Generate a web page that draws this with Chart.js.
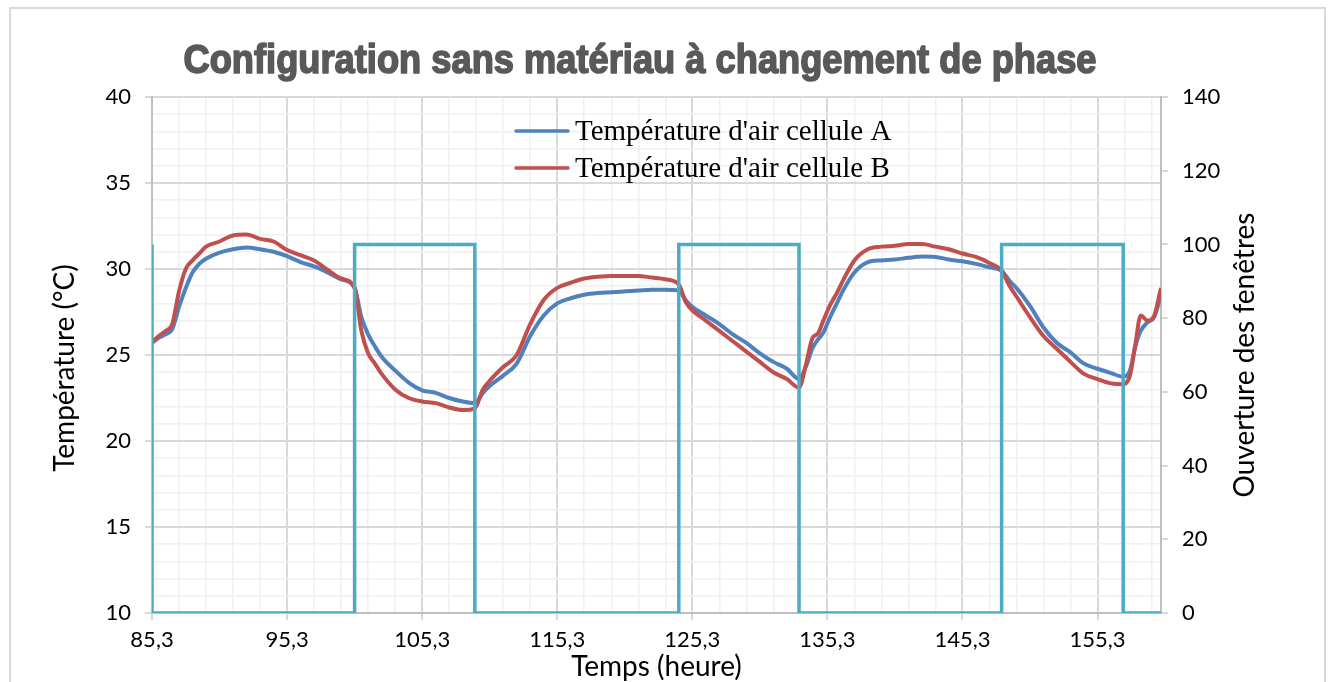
<!DOCTYPE html>
<html>
<head>
<meta charset="utf-8">
<script src="https://cdn.jsdelivr.net/npm/chart.js@4.4.1/dist/chart.umd.min.js"></script>
<style>
  html, body { margin: 0; padding: 0; background: #fff; overflow: hidden; }
  #frame { position: absolute; left: 9px; top: 7px; width: 1313px; height: 700px; border: 2px solid #d9d9d9; }
  #graph { position: absolute; left: 0; top: 0; }
</style>
</head>
<body>
<div id="frame"></div>
<canvas id="graph" width="1332" height="682"></canvas>
<script>
// time axis (hours) shared by both temperature series
const hours = [85.3, 85.8, 86.3, 86.8, 87.3, 87.8, 88.3, 88.8, 89.3,
  90.3, 91.3, 92.3, 93.3, 94.3, 95.3, 96.3, 97.3, 98.3, 99.3, 100.3,
  100.8, 101.3, 101.8, 102.3,
  103.3, 104.3, 105.3, 106.3, 107.3, 108.3,
  109.2, 109.8,
  110.3, 111.3, 112.3, 113.3, 114.3, 115.3, 116.3, 117.3, 118.3, 119.3, 120.3, 121.3, 122.3, 123.3, 124.3,
  124.8,
  125.3, 126.3, 127.3, 128.3, 129.3, 130.3, 131.3, 132.3,
  133.2,
  133.7, 134.2, 134.6, 135.0, 135.5, 136.0, 136.5,
  137.3, 138.3, 139.3, 140.3, 141.3, 142.3, 143.3, 144.3, 145.3, 146.3, 147.3,
  148.2, 148.8,
  149.3, 150.3, 151.3, 152.3, 153.3, 154.3, 155.3, 156.3,
  157.2,
  157.7, 158.1, 158.5, 159.0, 159.5, 160.0];

// air temperature, cell A (°C)
const tempA = [25.7, 26.0, 26.2, 26.5, 27.8, 28.9, 29.8, 30.3, 30.6,
  30.95, 31.15, 31.25, 31.15, 31.0, 30.75, 30.4, 30.15, 29.8, 29.4, 28.9,
  27.2, 26.2, 25.5, 24.9,
  24.1, 23.4, 22.95, 22.8, 22.5, 22.3,
  22.2, 22.8,
  23.2, 23.8, 24.5, 26.1, 27.3, 28.0, 28.3, 28.5, 28.6, 28.65, 28.7, 28.75, 28.8, 28.8, 28.75,
  28.2,
  27.8, 27.3, 26.8, 26.2, 25.7, 25.1, 24.6, 24.2,
  23.6,
  24.3, 25.4, 25.9, 26.3, 27.2, 28.0, 28.8,
  29.8, 30.4, 30.5, 30.55, 30.65, 30.72, 30.7, 30.55, 30.45, 30.3, 30.1,
  29.9, 29.3,
  28.9, 27.85, 26.6, 25.7, 25.15, 24.5, 24.2, 23.95,
  23.74,
  24.1, 25.5, 26.4, 26.9, 27.2, 28.5];

// air temperature, cell B (°C)
const tempB = [25.75, 26.1, 26.4, 26.8, 28.7, 30.0, 30.5, 30.9, 31.3,
  31.6, 31.95, 32.0, 31.75, 31.6, 31.1, 30.8, 30.5, 29.95, 29.45, 28.9,
  26.4, 25.1, 24.5, 23.9,
  23.0, 22.5, 22.3, 22.2, 21.95, 21.8,
  21.9, 23.0,
  23.5, 24.3, 25.0, 26.8, 28.2, 28.9, 29.2, 29.45, 29.55, 29.6, 29.6, 29.6, 29.5, 29.4, 29.1,
  28.1,
  27.6, 27.0, 26.4, 25.8, 25.2, 24.6, 24.0, 23.6,
  23.1,
  24.4, 26.0, 26.25, 27.0, 27.9, 28.6, 29.4,
  30.5, 31.15, 31.3, 31.35, 31.45, 31.45, 31.3, 31.15, 30.9, 30.7, 30.35,
  29.9, 29.0,
  28.4, 27.2, 26.1, 25.35, 24.6, 23.9, 23.6, 23.35,
  23.3,
  23.8, 25.6, 27.3, 27.0, 27.3, 28.9];

// window opening (%), stepped
const windowHours = [85.3, 85.3, 100.3, 109.2, 124.3, 133.2, 148.2, 157.2, 160];
const windowOpen = [100, 0, 100, 0, 100, 0, 100, 0, 0];

// x ticks every 2 h, labelled every 10 h
const hourTicks = [85.3, 87.3, 89.3, 91.3, 93.3, 95.3, 97.3, 99.3, 101.3, 103.3,
  105.3, 107.3, 109.3, 111.3, 113.3, 115.3, 117.3, 119.3, 121.3, 123.3,
  125.3, 127.3, 129.3, 131.3, 133.3, 135.3, 137.3, 139.3, 141.3, 143.3,
  145.3, 147.3, 149.3, 151.3, 153.3, 155.3, 157.3, 159.3];

const chartTitle = 'Configuration sans matériau à changement de phase';
const labelA = "Température d'air cellule A";
const labelB = "Température d'air cellule B";
const leftTitle = 'Température (°C)';
const rightTitle = 'Ouverture des fenêtres';

const blue = '#4f81bd';
const red = '#c0504d';
const cyan = '#4bacc6';
const majorGrid = '#d9d9d9';
const minorGrid = '#f0f0f0';
const tickFont = { family: 'Lato', size: 22 };
const axisFont = { family: 'Lato', size: 28 };

function toPoints(xs, ys) {
  return xs.map((x, i) => ({ x: x, y: ys[i] }));
}

function verticalText(ctx, text, x, y) {
  ctx.save();
  ctx.translate(x, y);
  ctx.rotate(-Math.PI / 2);
  ctx.textAlign = 'center';
  ctx.textBaseline = 'middle';
  ctx.font = axisFont.size + 'px ' + axisFont.family;
  ctx.fillStyle = '#000';
  ctx.fillText(text, 0, 0);
  ctx.restore();
}

// heavy title, legend inside the plot, rotated axis titles
const extras = {
  id: 'extras',
  afterDraw(chart) {
    const ctx = chart.ctx;
    const area = chart.chartArea;
    ctx.save();
    ctx.translate(640, 73);
    ctx.scale(0.93, 1.02);
    ctx.font = 'bold 39px "Liberation Sans"';
    ctx.textAlign = 'center';
    ctx.textBaseline = 'alphabetic';
    ctx.fillStyle = '#595959';
    ctx.strokeStyle = '#595959';
    ctx.lineWidth = 1.6;
    ctx.lineJoin = 'round';
    ctx.strokeText(chartTitle, 0, 0);
    ctx.fillText(chartTitle, 0, 0);
    ctx.restore();

    ctx.save();
    ctx.font = '29px "Liberation Serif"';
    ctx.textBaseline = 'alphabetic';
    ctx.textAlign = 'left';
    chart.data.datasets.filter(d => d.inLegend).forEach((d, i) => {
      const y = area.top + 34 + i * 37;
      ctx.strokeStyle = d.borderColor;
      ctx.lineWidth = 3.5;
      ctx.lineCap = 'round';
      ctx.beginPath();
      ctx.moveTo(area.left + 364, y);
      ctx.lineTo(area.left + 416, y);
      ctx.stroke();
      ctx.fillStyle = '#000';
      ctx.fillText(d.label, area.left + 423, y + 8.5);
    });
    ctx.restore();

    verticalText(ctx, leftTitle, 65, area.top + 271);
    verticalText(ctx, rightTitle, area.right + 84, (area.top + area.bottom) / 2);
  }
};

new Chart('graph', {
  type: 'line',
  data: {
    datasets: [{
      label: 'Ouverture',
      data: toPoints(windowHours, windowOpen),
      yAxisID: 'y2',
      borderColor: cyan,
      borderWidth: 3.5,
      stepped: 'before',
      pointRadius: 0,
      order: 0
    }, {
      label: labelA,
      inLegend: true,
      data: toPoints(hours, tempA),
      yAxisID: 'y',
      borderColor: blue,
      borderWidth: 4,
      cubicInterpolationMode: 'monotone',
      pointRadius: 0,
      order: 2
    }, {
      label: labelB,
      inLegend: true,
      data: toPoints(hours, tempB),
      yAxisID: 'y',
      borderColor: red,
      borderWidth: 4,
      cubicInterpolationMode: 'monotone',
      pointRadius: 0,
      order: 1
    }]
  },
  options: {
    responsive: false,
    animation: false,
    devicePixelRatio: 1,
    layout: { padding: { top: 97 } },
    plugins: {
      legend: { display: false },
      tooltip: { enabled: false },
      title: { display: false }
    },
    scales: {
      x: {
        type: 'linear',
        min: 85.3,
        max: 160,
        afterBuildTicks: (scale) => { scale.ticks = hourTicks.map(v => ({ value: v })); },
        afterFit: (scale) => { scale.height = 69; },
        ticks: {
          autoSkip: false,
          maxRotation: 0,
          padding: 7,
          color: '#000',
          font: tickFont,
          callback: (v, i) => i % 5 === 0 ? v.toFixed(1).replace('.', ',') : ''
        },
        grid: {
          color: (c) => c.index % 5 === 0 ? majorGrid : minorGrid,
          lineWidth: (c) => c.index % 5 === 0 ? 2 : 1.5,
          tickColor: (c) => c.index % 5 === 0 ? majorGrid : 'transparent',
          tickLength: 7
        },
        border: { color: '#bfbfbf', width: 2 },
        title: {
          display: true,
          text: 'Temps (heure)',
          color: '#000',
          font: axisFont,
          padding: { top: 0, bottom: -2 }
        }
      },
      y: {
        position: 'left',
        min: 10,
        max: 40,
        afterFit: (scale) => { scale.width = 152; },
        ticks: {
          stepSize: 1,
          autoSkip: false,
          padding: 14,
          color: '#000',
          font: tickFont,
          callback: (v) => v % 5 === 0 ? v : ''
        },
        grid: {
          color: (c) => c.tick && c.tick.value % 5 === 0 ? majorGrid : minorGrid,
          lineWidth: (c) => c.tick && c.tick.value % 5 === 0 ? 2 : 1.5,
          tickColor: (c) => c.tick && c.tick.value % 5 === 0 ? majorGrid : 'transparent',
          tickLength: 7
        },
        border: { color: '#bfbfbf', width: 2 }
      },
      y2: {
        position: 'right',
        min: 0,
        max: 140,
        afterFit: (scale) => { scale.width = 171; },
        ticks: {
          stepSize: 20,
          padding: 14,
          color: '#000',
          font: tickFont
        },
        grid: {
          drawOnChartArea: false,
          tickColor: majorGrid,
          tickLength: 7,
          lineWidth: 2
        },
        border: { color: '#bfbfbf', width: 2 }
      }
    }
  },
  plugins: [extras]
});
</script>
</body>
</html>
